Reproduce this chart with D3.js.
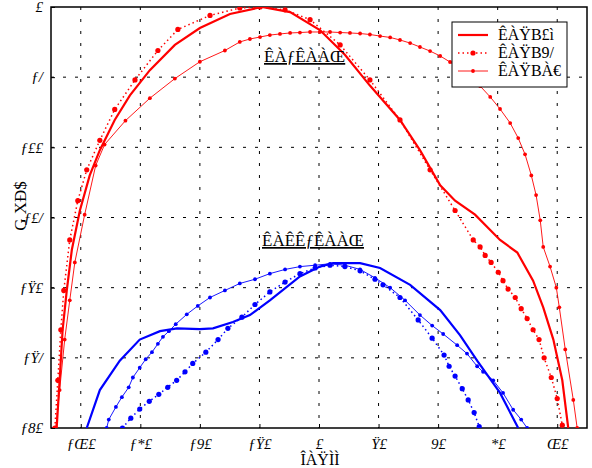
<!DOCTYPE html>
<html>
<head>
<meta charset="utf-8">
<script src="https://cdn.jsdelivr.net/npm/d3@7"></script>
<style>
  body { margin: 0; background: #fff; }
  text { font-family: "Liberation Serif", "DejaVu Serif", serif; }
</style>
</head>
<body>
<div id="chart"></div>
<script>
// x ticks / y ticks as they appear in the figure
let xTicks = [-80, -60, -40, -20, 0, 20, 40, 60, 80]
let xTickLabels = ["ƒŒ£", "ƒ*£", "ƒ9£", "ƒŸ£", "£", "Ÿ£", "9£", "*£", "Œ£"]
let yTicks = [0, -5, -10, -15, -20, -25, -30]
let yTickLabels = ["£", "ƒ/", "ƒ££", "ƒ£/", "ƒŸ£", "ƒŸ/", "ƒ8£"]

let legendNames = ["ÊÀŸB£ì", "ÊÀŸB9/", "ÊÀŸBÀ€"]
let xLabel = "ÎÀŸÌÌ"
let yLabel = "G XÐ$"
let noteTop = "ÊÀƒÊÀÀŒ"
let noteBottom = "ÊÀÊÊƒÊÀÀŒ"

// red group: [angle, dB]
let red1 = [[-88.1,-30],[-87.1,-26.6],[-86.1,-23.0],[-84.7,-20.2],[-83.0,-17.3],[-80.3,-14.5],[-77.0,-12.0],
  [-73.6,-10.2],[-68.6,-8.05],[-63.5,-6.3],[-56.8,-4.5],[-48.4,-2.7],[-40.0,-1.5],[-29.9,-0.5],[-19.2,0],
  [-9.7,-0.36],[0.3,-1.64],[8.7,-3.4],[17.1,-5.6],[27.2,-8.05],[33.9,-10.2],[40.7,-12.7],[45.7,-13.8],
  [52.4,-14.8],[60.8,-16.6],[66.6,-17.5],[71.9,-19.5],[75.3,-21.4],[78.7,-23.7],[81.7,-26.6],[83.7,-30]]
let red2 = [[-88.7,-30],[-87.7,-26.6],[-86.7,-23.0],[-85.7,-20.2],[-83.7,-16.6],[-81.0,-13.8],[-78.0,-11.6],
  [-73.6,-9.5],[-68.6,-7.3],[-61.8,-5.2],[-54.1,-3.1],[-47.4,-1.6],[-36.6,-0.6],[-26.6,-0.07],[-19.8,0],
  [-11.4,-0.2],[-3.0,-0.9],[7.1,-2.7],[17.1,-5.2],[27.2,-8.05],[37.3,-11.6],[45.7,-14.5],[51.8,-16.6],
  [54.1,-17.1],[55.8,-17.7],[57.8,-18.2],[60.2,-18.9],[61.8,-19.5],[63.5,-20.1],[65.9,-20.7],[67.9,-21.5],
  [69.9,-22.2],[71.9,-23.0],[73.9,-23.7],[75.6,-25.0],[78.0,-26.4],[80.0,-27.9],[81.7,-29.8]]
let red3 = [[-88.4,-30],[-87.1,-27.3],[-85.4,-23.7],[-83.7,-20.9],[-82.0,-18.2],[-78.7,-14.8],[-75.0,-11.3],
  [-72.0,-9.8],[-65.0,-8.1],[-56.8,-6.5],[-48.4,-5.1],[-40.0,-3.9],[-31.6,-3.1],[-26.6,-2.49],[-23.2,-2.28],
  [-19.8,-2.14],[-16.5,-2.0],[-13.1,-1.92],[-9.7,-1.85],[-6.4,-1.82],[-3.0,-1.78],[0.3,-1.78],[3.7,-1.78],
  [7.1,-1.82],[10.4,-1.85],[13.8,-1.89],[17.1,-1.96],[20.5,-2.07],[23.9,-2.17],[27.2,-2.35],[30.6,-2.57],
  [33.9,-2.85],[37.3,-3.14],[40.7,-3.49],[44.0,-3.92],[47.4,-4.42],[50.8,-4.99],[54.1,-5.63],[57.5,-6.41],
  [60.8,-7.27],[64.2,-8.27],[66.9,-9.34],[69.2,-10.5],[71.3,-12.0],[72.9,-13.4],[74.3,-15.2],[75.3,-17.1],
  [77.6,-18.5],[79.7,-20.0],[80.7,-21.4],[82.7,-24.4],[85.4,-28.0],[86.7,-30]]

// blue group
let blue1 = [[-78,-30],[-73.6,-27.3],[-66.9,-25.2],[-60.2,-23.7],[-53.4,-23.1],[-47.7,-22.9],[-40,-22.95],
  [-35.6,-22.9],[-28.9,-22.45],[-23.2,-21.95],[-16.5,-20.9],[-6.4,-19.2],[0.3,-18.5],[4.7,-18.25],
  [13.8,-18.25],[20.5,-18.6],[30.6,-19.8],[40.7,-21.6],[47.4,-23.4],[53.1,-25.2],[60.8,-27.5],[66.9,-30]]
let blue2 = [[-66.0,-30],[-63.2,-29.3],[-60.2,-28.65],[-57,-28.1],[-53.8,-27.6],[-50.8,-27.1],[-47.8,-26.6],
  [-45,-26.0],[-42.4,-25.4],[-38,-24.6],[-33.9,-23.7],[-30.6,-22.9],[-25.9,-22.1],[-21.5,-21.2],[-16.5,-20.3],
  [-11.4,-19.6],[-6.4,-19.0],[-1.3,-18.6],[3.7,-18.4],[8.7,-18.5],[13.8,-18.8],[18.8,-19.4],[21.5,-19.8],
  [27.2,-20.7],[33.3,-22.3],[38.0,-23.6],[42.0,-24.8],[43.7,-25.6],[45.7,-26.3],[48.1,-27.2],[50.1,-28.0],
  [52.1,-28.9],[53.8,-29.9]]
let blue3 = [[-71.3,-30],[-70.6,-29.4],[-68.2,-28.5],[-66.2,-27.8],[-63.9,-27.1],[-62.5,-26.4],[-60.2,-25.7],
  [-58.2,-25.1],[-56.1,-24.6],[-54.1,-24.0],[-52.4,-23.5],[-50.4,-23.1],[-48.1,-22.6],[-44.4,-21.9],
  [-40.7,-21.3],[-36.6,-20.7],[-31.6,-20.2],[-26.6,-19.7],[-21.5,-19.4],[-16.5,-19.0],[-11.4,-18.7],
  [-6.4,-18.5],[-1.3,-18.4],[3.7,-18.3],[8.7,-18.4],[13.8,-18.7],[18.8,-19.3],[23.9,-20.0],[28.9,-20.9],
  [33.9,-21.95],[38.0,-22.7],[41.7,-23.3],[46.4,-24.1],[49.7,-24.7],[53.1,-25.6],[55.1,-26.0],[58.5,-26.6],
  [61.8,-27.5],[65.2,-28.7],[67.9,-29.4],[69.9,-30]]

let width = 592, height = 468
let plot = {left: 51, right: 587, top: 7, bottom: 428}

let svg = d3.select("#chart").append("svg")
    .attr("width", width)
    .attr("height", height)

let x = d3.scaleLinear().domain([-90, 90]).range([plot.left, plot.right])
let y = d3.scaleLinear().domain([-30, 0]).range([plot.bottom, plot.top])

svg.append("clipPath").attr("id", "clip")
    .append("rect")
    .attr("x", plot.left).attr("y", plot.top)
    .attr("width", plot.right - plot.left).attr("height", plot.bottom - plot.top)

// grid
let grid = svg.append("g").attr("class", "grid")
grid.selectAll(".vgrid").data(xTicks).enter().append("line")
    .attr("x1", d => x(d)).attr("x2", d => x(d))
    .attr("y1", plot.top).attr("y2", plot.bottom)
    .attr("stroke", "#000").attr("stroke-width", 1).attr("stroke-dasharray", "3,9")
grid.selectAll(".hgrid").data(yTicks.slice(1, -1)).enter().append("line")
    .attr("y1", d => y(d)).attr("y2", d => y(d))
    .attr("x1", plot.left).attr("x2", plot.right)
    .attr("stroke", "#000").attr("stroke-width", 1).attr("stroke-dasharray", "3,9")

// axes (ticks inside, like the original)
svg.append("g")
    .attr("transform", "translate(0," + plot.bottom + ")")
    .call(d3.axisBottom(x).tickValues(xTicks).tickSizeInner(-4).tickSizeOuter(0)
        .tickFormat((d, i) => xTickLabels[i]).tickPadding(10))
svg.append("g")
    .attr("transform", "translate(" + plot.left + ",0)")
    .call(d3.axisLeft(y).tickValues(yTicks).tickSizeInner(-4).tickSizeOuter(0)
        .tickFormat((d, i) => yTickLabels[i]).tickPadding(8))
svg.selectAll(".tick text").attr("font-size", 15).attr("font-style", "italic")
    .attr("font-family", "Liberation Serif, serif").attr("fill", "#000")
svg.selectAll(".domain").remove()

svg.append("rect")
    .attr("x", plot.left).attr("y", plot.top)
    .attr("width", plot.right - plot.left).attr("height", plot.bottom - plot.top)
    .attr("fill", "none").attr("stroke", "#000").attr("stroke-width", 1.5)

let line = d3.line().x(d => x(d[0])).y(d => y(d[1]))

let series = [
    {data: red1, color: "#ff0000", style: "solid"},
    {data: red2, color: "#ff0000", style: "dots"},
    {data: red3, color: "#ff0000", style: "marked"},
    {data: blue1, color: "#0000ff", style: "solid"},
    {data: blue2, color: "#0000ff", style: "dots"},
    {data: blue3, color: "#0000ff", style: "marked"}
]

let curves = svg.append("g").attr("clip-path", "url(#clip)")

function styleLine(sel, style) {
    if (style === "solid") sel.attr("stroke-width", 2.2)
    else if (style === "dots") sel.attr("stroke-width", 1.5).attr("stroke-dasharray", "1.5,3")
    else sel.attr("stroke-width", 0.9)
}

function drawSeries(g, s) {
    let path = g.append("path")
        .datum(s.data)
        .attr("d", line)
        .attr("fill", "none")
        .attr("stroke", s.color)
    styleLine(path, s.style)
    if (s.style !== "solid") {
        g.selectAll(null).data(s.data).enter().append("circle")
            .attr("cx", d => x(d[0]))
            .attr("cy", d => y(d[1]))
            .attr("r", s.style === "dots" ? 2.6 : 1.9)
            .attr("fill", s.color)
    }
}

series.forEach(s => drawSeries(curves, s))

// annotations
svg.append("text").attr("x", 264).attr("y", 62).text(noteTop)
    .attr("font-size", 17).attr("text-decoration", "underline")
svg.append("text").attr("x", 262).attr("y", 246).text(noteBottom)
    .attr("font-size", 17).attr("text-decoration", "underline")

// axis labels
svg.append("text").attr("x", 320).attr("y", 465).attr("text-anchor", "middle")
    .attr("font-size", 16).text(xLabel)
svg.append("text").attr("transform", "translate(26,206) rotate(-90)")
    .attr("text-anchor", "middle").attr("font-size", 17).text(yLabel)

// legend
let legend = svg.append("g")
legend.append("rect").attr("x", 452).attr("y", 22).attr("width", 115).attr("height", 65)
    .attr("fill", "#fff").attr("stroke", "#000").attr("stroke-width", 1)
let legendRows = [35, 53, 71]
series.slice(0, 3).forEach((s, i) => {
    let row = legend.append("g")
    let ly = legendRows[i]
    let seg = row.append("line")
        .attr("x1", 458).attr("x2", 488).attr("y1", ly).attr("y2", ly)
        .attr("stroke", s.color)
    styleLine(seg, s.style)
    if (s.style !== "solid") {
        row.append("circle").attr("cx", 473).attr("cy", ly).attr("r", s.style === "dots" ? 2.6 : 1.9)
            .attr("fill", s.color)
    }
    row.append("text").attr("x", 498).attr("y", ly + 5).attr("font-size", 16).text(legendNames[i])
})
</script>
</body>
</html>
